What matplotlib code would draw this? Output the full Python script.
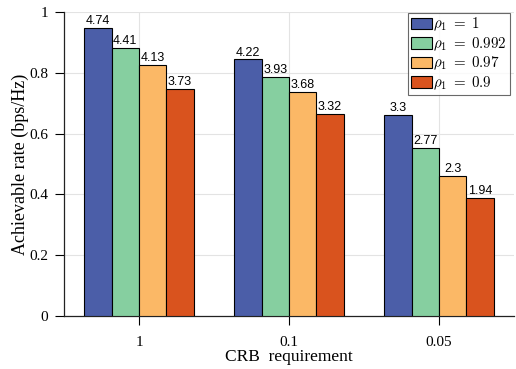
import matplotlib
matplotlib.use("Agg")
import matplotlib.pyplot as plt
import numpy as np

# Achievable rate (bps/Hz) for each CRB requirement and correlation rho_1
categories = ["1", "0.1", "0.05"]
series_labels = [r"$\rho_1\;=\;1$", r"$\rho_1\;=\;0.992$", r"$\rho_1\;=\;0.97$", r"$\rho_1\;=\;0.9$"]
rho_1 = [4.74, 4.22, 3.3]
rho_0992 = [4.41, 3.93, 2.77]
rho_097 = [4.13, 3.68, 2.3]
rho_09 = [3.73, 3.32, 1.94]
scale = 5.0  # normalisation of the rate axis
colors = ["#4b5ea8", "#86cfa0", "#fbb866", "#d9531e"]

plt.rcParams["mathtext.fontset"] = "cm"

fig = plt.figure(figsize=(5.16, 3.69), dpi=100)
ax = fig.add_axes([64 / 516, 1 - 316 / 369, 450 / 516, (316 - 12) / 369])

x = np.arange(len(categories))
width = 0.182
all_series = [rho_1, rho_0992, rho_097, rho_09]
for i, (vals, lab, col) in enumerate(zip(all_series, series_labels, colors)):
    pos = x + (i - 1.5) * width
    heights = np.array(vals) / scale
    ax.bar(pos, heights, width, color=col, edgecolor="black", linewidth=0.8,
           label=lab, zorder=3)
    for p, h, v in zip(pos, heights, vals):
        ax.text(p, h + 0.003, f"{v:g}", ha="center", va="bottom",
                fontsize=9, family="Liberation Sans", zorder=4)

ax.set_xlim(-0.5, 2.5)
ax.set_ylim(0, 1)
ax.set_xticks(x)
ax.set_xticklabels(categories)
ax.set_yticks([0, 0.2, 0.4, 0.6, 0.8, 1])
ax.set_yticklabels(["0", "0.2", "0.4", "0.6", "0.8", "1"])
ax.tick_params(direction="out", length=6.5, width=0.8, labelsize=11, pad=5)
ax.tick_params(axis="x", pad=8)
for lbl in ax.get_xticklabels() + ax.get_yticklabels():
    lbl.set_family("Liberation Serif")

ax.grid(True, color="#e3e3e3", linewidth=0.8, zorder=0)
ax.set_axisbelow(True)
for s in ["top", "right"]:
    ax.spines[s].set_visible(False)
for s in ["left", "bottom"]:
    ax.spines[s].set_linewidth(0.9)
    ax.spines[s].set_color("#222222")

ax.set_xlabel("CRB  requirement", family="Liberation Serif", fontsize=12.5, labelpad=0)
ax.set_ylabel("Achievable rate (bps/Hz)", family="Liberation Serif", fontsize=13, labelpad=0)

leg = ax.legend(loc="upper right", bbox_to_anchor=(0.992, 1.0), fontsize=10.8,
                frameon=True, fancybox=False, edgecolor="#444444",
                handlelength=1.4, handleheight=0.8, handletextpad=0.1,
                borderpad=0.2, labelspacing=0.15, borderaxespad=0.05)
leg.get_frame().set_linewidth(0.8)

fig.savefig("out.png", dpi=100)
